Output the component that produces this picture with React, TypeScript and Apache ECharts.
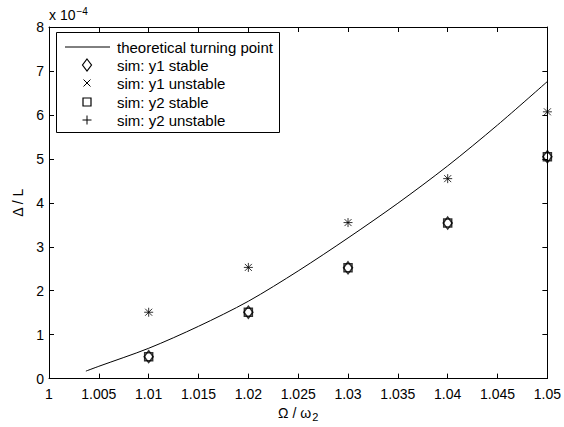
import React, { useEffect, useRef } from "react";
import * as echarts from "echarts";

// values in units of 1e-4
const curveX = [1.0037, 1.005, 1.01, 1.015, 1.02, 1.025, 1.03, 1.035, 1.04, 1.045, 1.05];
const curveY = [0.17, 0.28, 0.69, 1.19, 1.76, 2.45, 3.2, 3.99, 4.84, 5.77, 6.76];
const simX = [1.01, 1.02, 1.03, 1.04, 1.05];
const y1Stable = [0.5, 1.51, 2.52, 3.54, 5.05];
const y1Unstable = [1.51, 2.53, 3.55, 4.55, 6.07];
const y2Stable = [0.5, 1.51, 2.52, 3.54, 5.05];
const y2Unstable = [1.51, 2.53, 3.55, 4.55, 6.07];
const legendNames = [
  "theoretical turning point",
  "sim: y1 stable",
  "sim: y1 unstable",
  "sim: y2 stable",
  "sim: y2 unstable",
];

const FONT = "'Liberation Sans', Arial, Helvetica, sans-serif";
const CROSS = "path://M0,0L10,10M10,0L0,10";
const PLUS = "path://M5,0L5,10M0,5L10,5";

export default function App() {
  const ref = useRef<HTMLDivElement>(null);
  useEffect(() => {
    const chart = echarts.init(ref.current!, null, { renderer: "svg" });
    const pair = (xs: number[], ys: number[]) => xs.map((x, i) => [x, ys[i]]);
    const axisCommon = {
      axisLine: { show: true, onZero: false, lineStyle: { color: "#000", width: 1 } },
      axisTick: { show: true, inside: true, length: 5, lineStyle: { color: "#000" } },
      splitLine: { show: false },
    };
    const strokeStyle = { color: "none", borderColor: "#000", borderWidth: 1 };
    const lx = 87;
    const rows = [47, 65, 83, 102, 120];
    chart.setOption({
      animation: false,
      backgroundColor: "#fff",
      grid: { left: 49, right: 13, top: 27, bottom: 47 },
      xAxis: [
        {
          type: "value",
          min: 1,
          max: 1.05,
          interval: 0.005,
          ...axisCommon,
          axisLabel: {
            color: "#000",
            fontFamily: FONT,
            fontSize: 14,
            margin: 8,
            formatter: (v: number) => String(+v.toFixed(3)),
          },
          name: "Ω / ω{sub|2}",
          nameLocation: "middle",
          nameGap: 24,
          nameTextStyle: {
            color: "#000",
            fontFamily: FONT,
            fontSize: 14,
            rich: { sub: { fontSize: 11, fontFamily: FONT, color: "#000", verticalAlign: "bottom", padding: [8, 0, 0, 1] } },
          },
        },
        {
          type: "value",
          position: "top",
          min: 1,
          max: 1.05,
          interval: 0.005,
          ...axisCommon,
          axisLabel: { show: false },
        },
      ],
      yAxis: [
        {
          type: "value",
          min: 0,
          max: 8,
          interval: 1,
          ...axisCommon,
          axisLabel: { color: "#000", fontFamily: FONT, fontSize: 14, margin: 5 },
          name: "Δ / L",
          nameLocation: "middle",
          nameGap: 22,
          nameRotate: 90,
          nameTextStyle: { color: "#000", fontFamily: FONT, fontSize: 14 },
        },
        {
          type: "value",
          position: "right",
          min: 0,
          max: 8,
          interval: 1,
          ...axisCommon,
          axisLabel: { show: false },
        },
      ],
      series: [
        {
          name: legendNames[0],
          type: "line",
          data: pair(curveX, curveY),
          smooth: 0.3,
          showSymbol: false,
          lineStyle: { color: "#000", width: 1 },
        },
        {
          name: legendNames[1],
          type: "scatter",
          data: pair(simX, y1Stable),
          symbol: "diamond",
          symbolSize: [9, 12],
          itemStyle: { ...strokeStyle, borderWidth: 1.5 },
        },
        {
          name: legendNames[2],
          type: "scatter",
          data: pair(simX, y1Unstable),
          symbol: CROSS,
          symbolSize: 7,
          itemStyle: strokeStyle,
        },
        {
          name: legendNames[3],
          type: "scatter",
          data: pair(simX, y2Stable),
          symbol: "rect",
          symbolSize: 8,
          itemStyle: { ...strokeStyle, borderWidth: 1.5 },
        },
        {
          name: legendNames[4],
          type: "scatter",
          data: pair(simX, y2Unstable),
          symbol: PLUS,
          symbolSize: 9,
          itemStyle: strokeStyle,
        },
      ],
      graphic: [
        {
          type: "text",
          left: 49,
          top: 6,
          style: {
            text: "x 10{sup|−4}",
            fill: "#000",
            font: `14px ${FONT}`,
            rich: { sup: { fontSize: 10, fontFamily: FONT, fill: "#000", verticalAlign: "top", padding: [0, 0, 8, 1] } },
          },
        },
        {
          type: "group",
          z: 100,
          children: [
            { type: "rect", shape: { x: 56.5, y: 32.5, width: 223, height: 100 }, style: { fill: "#fff", stroke: "#000", lineWidth: 1 } },
            { type: "line", shape: { x1: 65, y1: rows[0], x2: 110, y2: rows[0] }, style: { stroke: "#000", lineWidth: 1 } },
            { type: "polygon", shape: { points: [[lx, rows[1] - 6], [lx + 4.5, rows[1]], [lx, rows[1] + 6], [lx - 4.5, rows[1]]] }, style: { fill: "none", stroke: "#000", lineWidth: 1.2 } },
            { type: "line", shape: { x1: lx - 3.5, y1: rows[2] - 3.5, x2: lx + 3.5, y2: rows[2] + 3.5 }, style: { stroke: "#000", lineWidth: 1 } },
            { type: "line", shape: { x1: lx + 3.5, y1: rows[2] - 3.5, x2: lx - 3.5, y2: rows[2] + 3.5 }, style: { stroke: "#000", lineWidth: 1 } },
            { type: "rect", shape: { x: lx - 4, y: rows[3] - 4, width: 8, height: 8 }, style: { fill: "none", stroke: "#000", lineWidth: 1.2 } },
            { type: "line", shape: { x1: lx - 4.5, y1: rows[4], x2: lx + 4.5, y2: rows[4] }, style: { stroke: "#000", lineWidth: 1 } },
            { type: "line", shape: { x1: lx, y1: rows[4] - 4.5, x2: lx, y2: rows[4] + 4.5 }, style: { stroke: "#000", lineWidth: 1 } },
            ...legendNames.map((n, i) => ({
              type: "text",
              x: 117,
              y: rows[i],
              style: { text: n, fill: "#000", font: `15px ${FONT}`, textVerticalAlign: "middle", verticalAlign: "middle" },
            })),
          ],
        },
      ],
    });
    return () => chart.dispose();
  }, []);
  return <div ref={ref} style={{ width: 564, height: 427, position: "absolute", left: 0, top: 0 }} />;
}
